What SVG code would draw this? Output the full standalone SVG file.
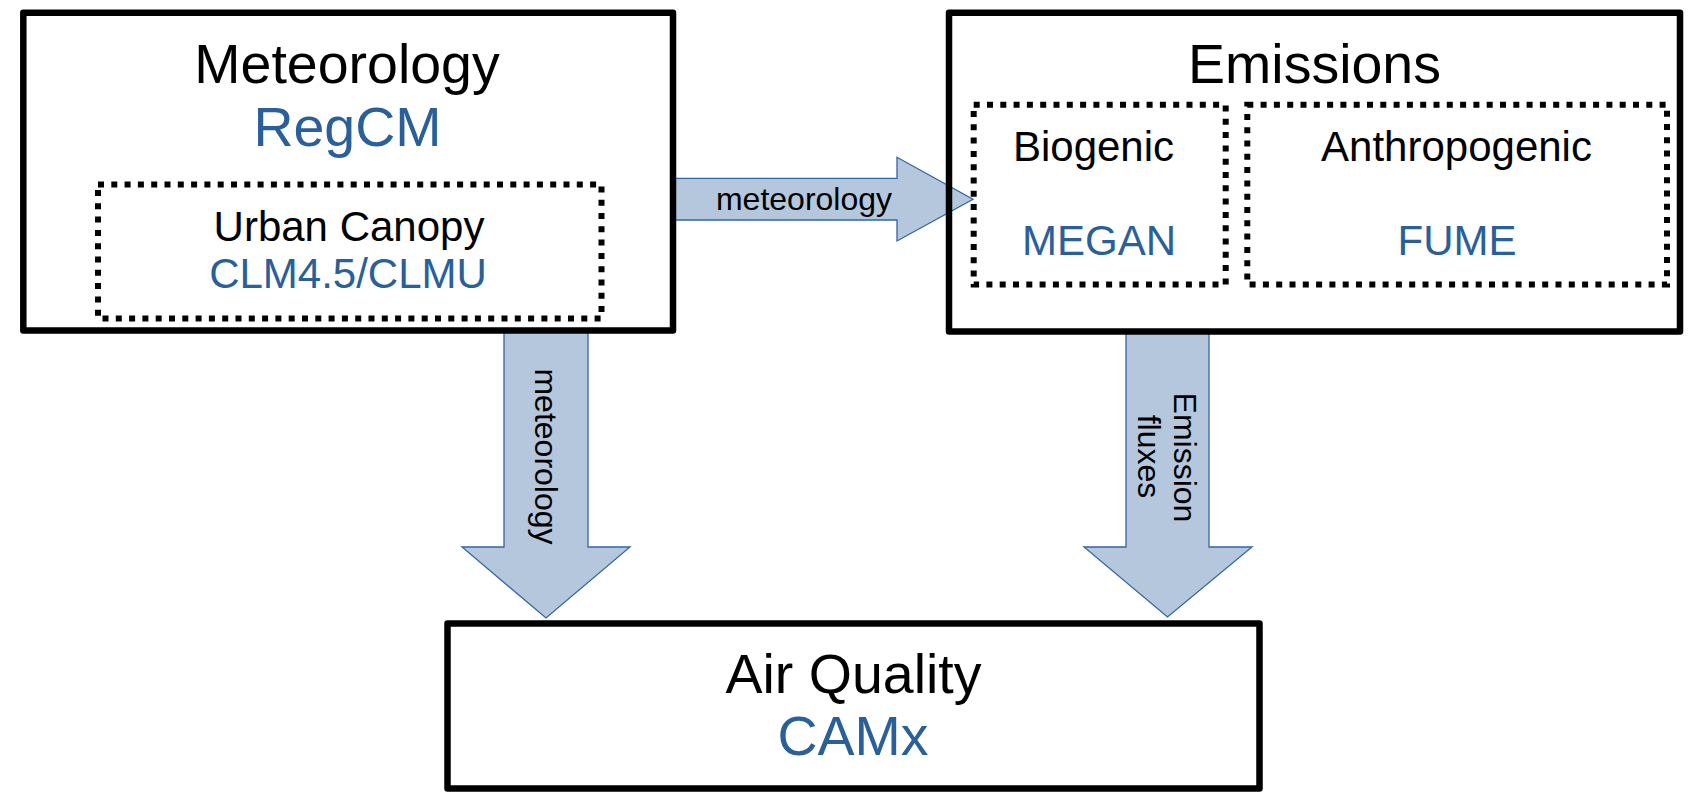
<svg xmlns="http://www.w3.org/2000/svg" width="1705" height="802" viewBox="0 0 1705 802">
<style>
.box{fill:none;stroke:#000;stroke-width:6.5;stroke-linejoin:round}
.dot{fill:none;stroke:#000;stroke-width:6;stroke-dasharray:6 7.3}
.arrow{fill:#b4c7dc;stroke:#3465a4;stroke-width:1.3;stroke-linejoin:miter}
text{font-family:"Liberation Sans",Arial,sans-serif;text-anchor:middle;fill:#000}
.big{font-size:55.5px}
.mid{font-size:42px}
.sm{font-size:32px}
.blue{fill:#2a6099}
</style>
<rect width="1705" height="802" fill="#fff"/>
<g id="connectors">
<path class="arrow" d="M672,178.3 H897 V157.3 L973,199.3 L897,241 V220 H672 Z"/>
<path class="arrow" d="M504,332 H588 V547 H630 L546,618 L462,547 H504 Z"/>
<path class="arrow" d="M1126,332 H1209 V547 H1252 L1167.5,617 L1084,547 H1126 Z"/>
<text class="sm" x="804" y="210">meteorology</text>
<text class="sm" transform="translate(535,456.5) rotate(90)">meteorology</text>
<text class="sm" transform="translate(1174,457.5) rotate(90)">Emission</text>
<text class="sm" transform="translate(1137.5,456.5) rotate(90)">fluxes</text>
</g>
<g id="meteorology">
<rect class="box" x="23.3" y="12.7" width="649.7" height="317.8"/>
<text class="big" x="347" y="83">Meteorology</text>
<text class="big blue" x="347.5" y="146">RegCM</text>
</g>
<g id="urban-canopy">
<rect class="dot" x="98" y="184.5" width="503.5" height="134"/>
<text class="mid" x="349" y="241">Urban Canopy</text>
<text class="mid blue" x="348" y="288">CLM4.5/CLMU</text>
</g>
<g id="emissions">
<rect class="box" x="949" y="12.7" width="731" height="318.8"/>
<text class="big" x="1314.5" y="83">Emissions</text>
</g>
<g id="biogenic">
<rect class="dot" x="973.7" y="104.8" width="252" height="179.7"/>
<text class="mid" x="1093.5" y="161">Biogenic</text>
<text class="mid blue" x="1099" y="255">MEGAN</text>
</g>
<g id="anthropogenic">
<rect class="dot" x="1247.3" y="104.8" width="419.7" height="179.7"/>
<text class="mid" x="1456.5" y="161">Anthropogenic</text>
<text class="mid blue" x="1457" y="255">FUME</text>
</g>
<g id="air-quality">
<rect class="box" x="447.5" y="623.5" width="812" height="165"/>
<text class="big" x="853.5" y="693">Air Quality</text>
<text class="big blue" x="853" y="755">CAMx</text>
</g>
</svg>
